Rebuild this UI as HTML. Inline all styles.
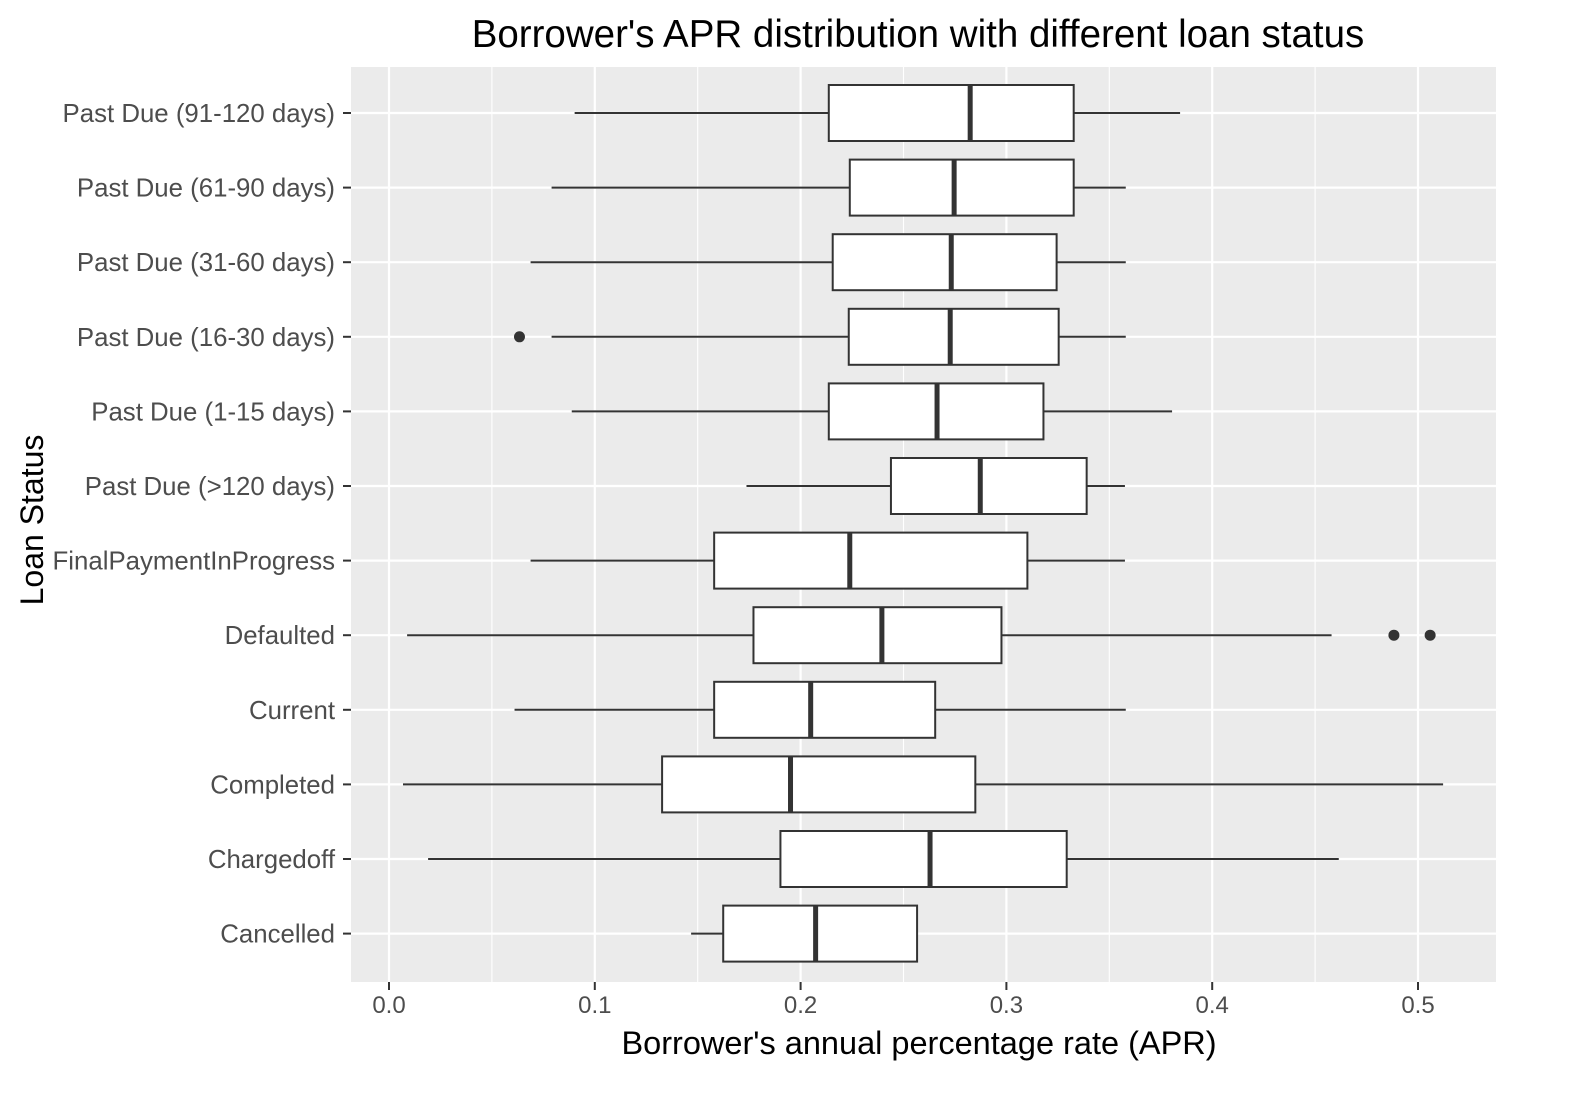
<!DOCTYPE html>
<html><head><meta charset="utf-8"><style>
body{margin:0;background:#fff;}
svg text{font-family:"Liberation Sans",Arial,sans-serif;}
</style></head><body>
<svg id="chart" width="1576" height="1090" xmlns="http://www.w3.org/2000/svg">
<text x="918" y="47" text-anchor="middle" font-size="38.5" fill="#000">Borrower's APR distribution with different loan status</text>
<rect x="351" y="67" width="1145" height="915" fill="#ebebeb"/>
<g id="grid"></g><g id="boxes"></g><g id="axes"></g>
<text x="919" y="1054" text-anchor="middle" font-size="32.5" fill="#000">Borrower's annual percentage rate (APR)</text>
<text transform="translate(43,520) rotate(-90)" text-anchor="middle" font-size="32" fill="#000">Loan Status</text>
</svg>
<script>
const categories=["Past Due (91-120 days)","Past Due (61-90 days)","Past Due (31-60 days)","Past Due (16-30 days)","Past Due (1-15 days)","Past Due (>120 days)","FinalPaymentInProgress","Defaulted","Current","Completed","Chargedoff","Cancelled"];
const whiskerLow=[0.0902,0.079,0.0688,0.079,0.0888,0.1737,0.0688,0.0088,0.061,0.0068,0.019,0.1468];
const q1=[0.2137,0.2239,0.2156,0.2234,0.2137,0.2439,0.158,0.1771,0.158,0.1327,0.1902,0.1624];
const median=[0.2824,0.2746,0.2732,0.2727,0.2663,0.2873,0.2239,0.2395,0.2049,0.1951,0.2629,0.2073];
const q3=[0.3327,0.3327,0.3244,0.3254,0.318,0.339,0.3102,0.2976,0.2654,0.2849,0.3293,0.2566];
const whiskerHigh=[0.3844,0.358,0.358,0.358,0.3805,0.3576,0.3576,0.458,0.358,0.5122,0.4615,0.2566];
const outliers=[[],[],[],[0.0634],[],[],[],[0.4883,0.5059],[],[],[],[]];
const xTicks=[0,0.1,0.2,0.3,0.4,0.5];
const xTickLabels=["0.0","0.1","0.2","0.3","0.4","0.5"];
const NS="http://www.w3.org/2000/svg";
const X=v=>389+v*2058;
const Y=i=>113+i*74.6;
function mk(parent,tag,attrs){const e=document.createElementNS(NS,tag);for(const k in attrs)e.setAttribute(k,attrs[k]);document.getElementById(parent).appendChild(e);return e;}
for(let t=-0.05;t<=0.55;t+=0.05){const x=X(t);if(x<351||x>1496)continue;const major=Math.abs(Math.round(t*10)-t*10)<1e-6;
const l=mk('grid','line',{x1:x,x2:x,y1:67,y2:982,stroke:'#fff','stroke-width':major?2.2:1.1});

}
categories.forEach((c,i)=>{const l=mk('grid','line',{x1:351,x2:1496,y1:Y(i),y2:Y(i),stroke:'#fff','stroke-width':2.2});

});
categories.forEach((c,i)=>{const y=Y(i),h=28;
const g=mk('boxes','g',{});


const gid='b'+i;g.id=gid;
mk(gid,'line',{x1:X(whiskerLow[i]),x2:X(q1[i]),y1:y,y2:y,stroke:'#333','stroke-width':2});
mk(gid,'line',{x1:X(q3[i]),x2:X(whiskerHigh[i]),y1:y,y2:y,stroke:'#333','stroke-width':2});
mk(gid,'rect',{x:X(q1[i]),y:y-h,width:X(q3[i])-X(q1[i]),height:2*h,fill:'#fff',stroke:'#333','stroke-width':2});
mk(gid,'line',{x1:X(median[i]),x2:X(median[i]),y1:y-h,y2:y+h,stroke:'#333','stroke-width':5});
outliers[i].forEach(o=>{const p=mk(gid,'circle',{cx:X(o),cy:y,r:5.5,fill:'#333'});

});
const t=mk('axes','text',{x:335,y:y+9,'text-anchor':'end','font-size':25.8,fill:'#4d4d4d'});t.textContent=c;


mk('axes','line',{x1:343,x2:351,y1:y,y2:y,stroke:'#333','stroke-width':2});
});
xTicks.forEach((v,i)=>{const x=X(v);
mk('axes','line',{x1:x,x2:x,y1:982,y2:990,stroke:'#333','stroke-width':2});
const t=mk('axes','text',{x:x,y:1013,'text-anchor':'middle','font-size':24,fill:'#4d4d4d'});t.textContent=xTickLabels[i];

});
</script>
</body></html>
